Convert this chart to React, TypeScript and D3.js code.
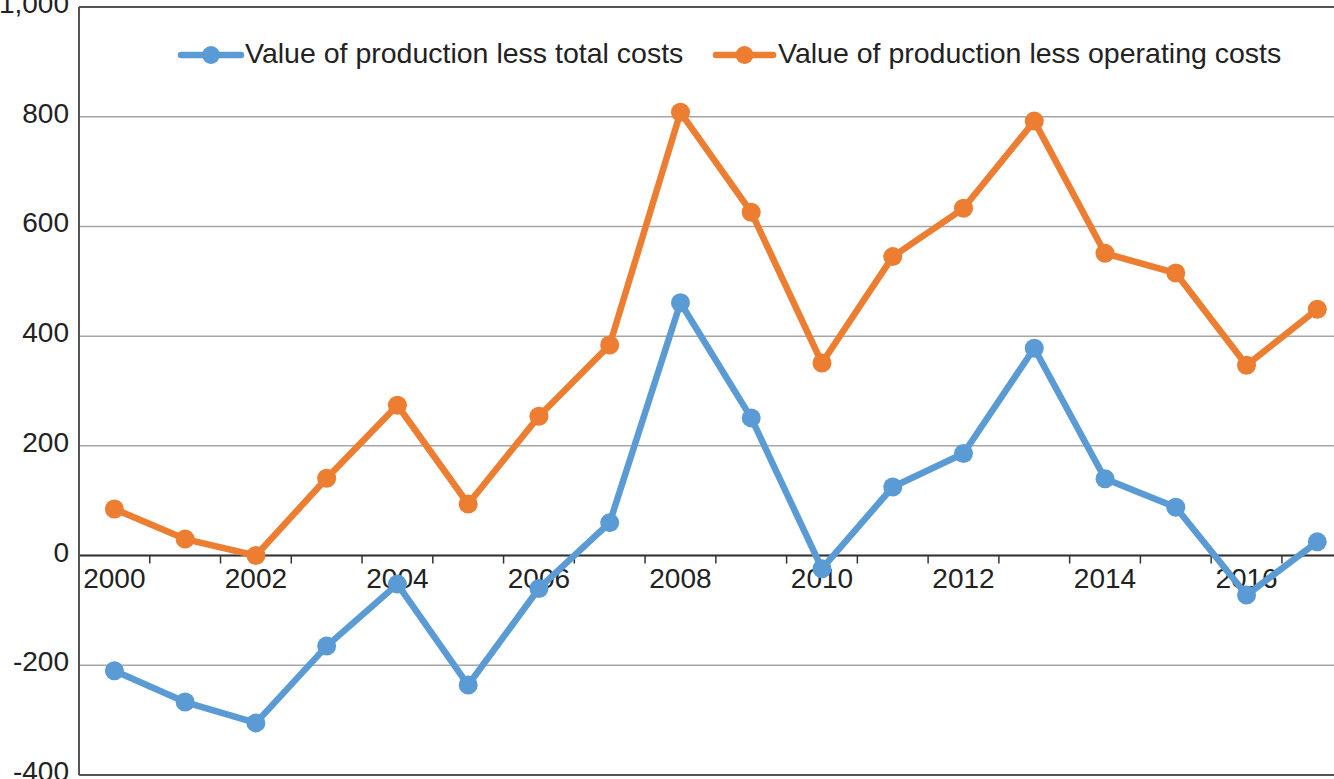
import React from "react";
import * as d3 from "d3";

const years = [2000, 2001, 2002, 2003, 2004, 2005, 2006, 2007, 2008, 2009, 2010, 2011, 2012, 2013, 2014, 2015, 2016, 2017];
const totalCosts = [-210, -267, -305, -165, -52, -236, -60, 60, 461, 251, -24, 125, 186, 378, 140, 88, -72, 25];
const operatingCosts = [85, 30, 0, 141, 274, 94, 254, 384, 808, 626, 351, 545, 633, 792, 551, 515, 347, 449];
const yTicks = [-400, -200, 0, 200, 400, 600, 800, 1000];
const xLabelYears = [2000, 2002, 2004, 2006, 2008, 2010, 2012, 2014, 2016];
const seriesNames = ["Value of production less total costs", "Value of production less operating costs"];
const seriesColors = ["#5b9bd5", "#ed7d31"];

const W = 1334;
const H = 779;
const left = 79;
const step = 70.76;
const top = 7;
const bottom = 775;
const font = "'Liberation Sans', Arial, Helvetica, sans-serif";

export default function App() {
  const x = d3.scaleBand<number>().domain(years).range([left, left + step * years.length]).padding(0);
  const y = d3.scaleLinear().domain([-400, 1000]).range([bottom, top]);
  const cx = (yr: number) => (x(yr) as number) + x.bandwidth() / 2;
  const line = d3
    .line<number>()
    .x((_, i) => cx(years[i]))
    .y((d) => y(d));
  const fmt = (d: number) => d3.format(",")(d).replace("\u2212", "-");
  const boundaries = years.map((yr) => x(yr) as number).concat([x.range()[1]]);
  const series = [totalCosts, operatingCosts];
  const legend = [
    { lx1: 181, lx2: 241, tx: 245 },
    { lx1: 716, lx2: 773, tx: 778 },
  ];
  const legendY = 55;

  return (
    <svg width={W} height={H} style={{ position: "absolute", left: 0, top: 0, background: "#fff" }} fontFamily={font}>
      <rect x={0} y={0} width={W} height={H} fill="#fff" />
      {/* gridlines */}
      {yTicks.map((t) => (
        <line key={"g" + t} x1={left} x2={x.range()[1]} y1={y(t)} y2={y(t)} stroke="#a6a6a6" strokeWidth={1.5} />
      ))}
      {/* frame top and bottom */}
      <line x1={left} x2={x.range()[1]} y1={y(1000)} y2={y(1000)} stroke="#555" strokeWidth={2} />
      <line x1={left} x2={x.range()[1]} y1={y(-400)} y2={y(-400)} stroke="#555" strokeWidth={2} />
      {/* zero axis */}
      <line x1={left} x2={x.range()[1]} y1={y(0)} y2={y(0)} stroke="#333" strokeWidth={2} />
      {boundaries.map((b, i) => (
        <line key={"t" + i} x1={b} x2={b} y1={y(0)} y2={y(0) + 8} stroke="#333" strokeWidth={1.5} />
      ))}
      {/* left axis */}
      <line x1={left} x2={left} y1={y(1000)} y2={y(-400)} stroke="#555" strokeWidth={2} />
      {/* y labels */}
      {yTicks.map((t) => (
        <text key={"yl" + t} x={69} y={y(t) + 6} textAnchor="end" fontSize={28} fill="#222">
          {fmt(t)}
        </text>
      ))}
      {/* x labels */}
      {xLabelYears.map((yr) => (
        <text key={"xl" + yr} x={cx(yr)} y={y(0) + 32} textAnchor="middle" fontSize={28} fill="#222">
          {yr}
        </text>
      ))}
      {/* series */}
      {series.map((s, si) => (
        <g key={"s" + si}>
          <path d={line(s) as string} fill="none" stroke={seriesColors[si]} strokeWidth={6.5} strokeLinejoin="round" />
          {s.map((v, i) => (
            <circle key={i} cx={cx(years[i])} cy={y(v)} r={9.5} fill={seriesColors[si]} />
          ))}
        </g>
      ))}
      {/* legend */}
      {legend.map((l, i) => (
        <g key={"lg" + i}>
          <line x1={l.lx1} x2={l.lx2} y1={legendY} y2={legendY} stroke={seriesColors[i]} strokeWidth={6.5} strokeLinecap="round" />
          <circle cx={(l.lx1 + l.lx2) / 2} cy={legendY} r={9} fill={seriesColors[i]} />
          <text x={l.tx} y={legendY + 8} fontSize={28.5} fill="#222">
            {seriesNames[i]}
          </text>
        </g>
      ))}
    </svg>
  );
}
